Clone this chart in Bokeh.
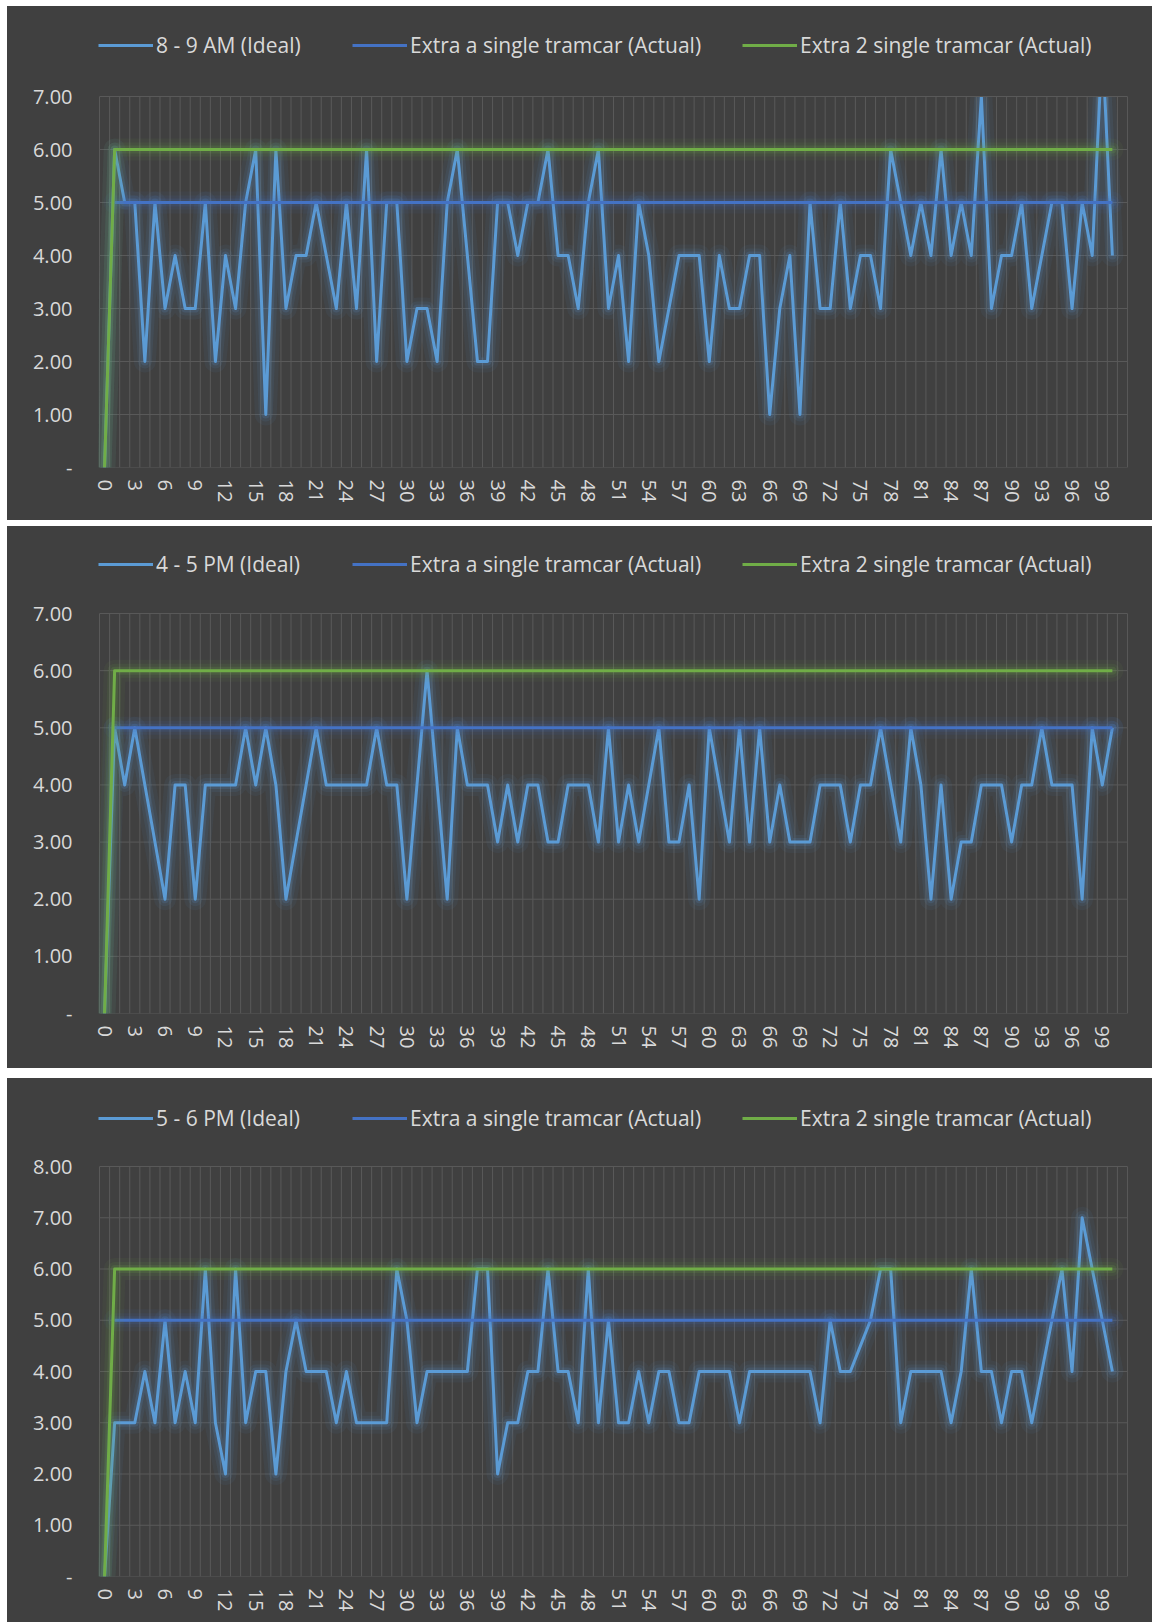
import numpy as np
from bokeh.plotting import figure
from bokeh.models import FixedTicker, Legend, LegendItem, Spacer
from bokeh.layouts import column, row
from bokeh.embed import file_html
from bokeh.resources import INLINE

# ---------------- data ----------------
x_values = list(range(101))
x_tick_values = list(range(0, 100, 3))
x_tick_labels = [str(v) for v in x_tick_values]

ideal_8_9am = [0, 6, 5, 5, 2, 5, 3, 4, 3, 3,
               5, 2, 4, 3, 5, 6, 1, 6, 3, 4,
               4, 5, 4, 3, 5, 3, 6, 2, 5, 5,
               2, 3, 3, 2, 5, 6, 4, 2, 2, 5,
               5, 4, 5, 5, 6, 4, 4, 3, 5, 6,
               3, 4, 2, 5, 4, 2, 3, 4, 4, 4,
               2, 4, 3, 3, 4, 4, 1, 3, 4, 1,
               5, 3, 3, 5, 3, 4, 4, 3, 6, 5,
               4, 5, 4, 6, 4, 5, 4, 7, 3, 4,
               4, 5, 3, 4, 5, 5, 3, 5, 4, 8,
               4]

ideal_4_5pm = [0, 5, 4, 5, 4, 3, 2, 4, 4, 2,
               4, 4, 4, 4, 5, 4, 5, 4, 2, 3,
               4, 5, 4, 4, 4, 4, 4, 5, 4, 4,
               2, 4, 6, 4, 2, 5, 4, 4, 4, 3,
               4, 3, 4, 4, 3, 3, 4, 4, 4, 3,
               5, 3, 4, 3, 4, 5, 3, 3, 4, 2,
               5, 4, 3, 5, 3, 5, 3, 4, 3, 3,
               3, 4, 4, 4, 3, 4, 4, 5, 4, 3,
               5, 4, 2, 4, 2, 3, 3, 4, 4, 4,
               3, 4, 4, 5, 4, 4, 4, 2, 5, 4,
               5]

ideal_5_6pm = [0, 3, 3, 3, 4, 3, 5, 3, 4, 3,
               6, 3, 2, 6, 3, 4, 4, 2, 4, 5,
               4, 4, 4, 3, 4, 3, 3, 3, 3, 6,
               5, 3, 4, 4, 4, 4, 4, 6, 6, 2,
               3, 3, 4, 4, 6, 4, 4, 3, 6, 3,
               5, 3, 3, 4, 3, 4, 4, 3, 3, 4,
               4, 4, 4, 3, 4, 4, 4, 4, 4, 4,
               4, 3, 5, 4, 4, 4.5, 5, 6, 6, 3,
               4, 4, 4, 4, 3, 4, 6, 4, 4, 3,
               4, 4, 3, 4, 5, 6, 4, 7, 6, 5,
               4]

extra_one_tram = [np.nan,
                  5, 5, 5, 5, 5, 5, 5, 5, 5, 5,
                  5, 5, 5, 5, 5, 5, 5, 5, 5, 5,
                  5, 5, 5, 5, 5, 5, 5, 5, 5, 5,
                  5, 5, 5, 5, 5, 5, 5, 5, 5, 5,
                  5, 5, 5, 5, 5, 5, 5, 5, 5, 5,
                  5, 5, 5, 5, 5, 5, 5, 5, 5, 5,
                  5, 5, 5, 5, 5, 5, 5, 5, 5, 5,
                  5, 5, 5, 5, 5, 5, 5, 5, 5, 5,
                  5, 5, 5, 5, 5, 5, 5, 5, 5, 5,
                  5, 5, 5, 5, 5, 5, 5, 5, 5, 5]

extra_two_tram = [0,
                  6, 6, 6, 6, 6, 6, 6, 6, 6, 6,
                  6, 6, 6, 6, 6, 6, 6, 6, 6, 6,
                  6, 6, 6, 6, 6, 6, 6, 6, 6, 6,
                  6, 6, 6, 6, 6, 6, 6, 6, 6, 6,
                  6, 6, 6, 6, 6, 6, 6, 6, 6, 6,
                  6, 6, 6, 6, 6, 6, 6, 6, 6, 6,
                  6, 6, 6, 6, 6, 6, 6, 6, 6, 6,
                  6, 6, 6, 6, 6, 6, 6, 6, 6, 6,
                  6, 6, 6, 6, 6, 6, 6, 6, 6, 6,
                  6, 6, 6, 6, 6, 6, 6, 6, 6, 6]

label_extra_one = "Extra a single tramcar (Actual)"
label_extra_two = "Extra 2 single tramcar (Actual)"

# ---------------- style ----------------
BG = "#404040"
GRID = "#595959"
TXT = "#D9D9D9"
C_IDEAL = "#5B9BD5"
C_ONE = "#4472C4"
C_TWO = "#70AD47"
FONT = "Open Sans"
W = 1145
X_LO, X_HI = -0.5, 101.5  # category band edges


def glow(p, y, color):
    for w, a in ((22, 0.06), (14, 0.09), (8, 0.15)):
        p.line(x_values, y, line_color=color, line_width=w, line_alpha=a,
               line_join="round", line_cap="round")


def panel(ideal, ideal_label, ymax, fig_h, top_px, plot_px, legend_center_px):
    bottom_px = fig_h - top_px - plot_px
    y_top = ymax * (top_px + plot_px) / plot_px  # frame reaches the figure top
    p = figure(width=W, height=fig_h, x_range=(X_LO - 0.1, X_HI + 0.1), y_range=(0, y_top),
               output_backend="svg", toolbar_location=None,
               background_fill_color=BG, border_fill_color=BG,
               min_border_left=91, min_border_right=24,
               min_border_top=0, min_border_bottom=bottom_px)
    p.styles = {"background-color": BG}
    p.outline_line_color = None
    p.grid.visible = False

    # plot-area grid (drawn as marks so the legend can live above it)
    vx = [v - 0.5 for v in range(103)]
    p.segment(x0=vx, y0=[0] * len(vx), x1=vx, y1=[ymax] * len(vx),
              line_color=GRID, line_width=1)
    hy = list(range(0, ymax + 1))
    p.segment(x0=[X_LO] * len(hy), y0=hy, x1=[X_HI] * len(hy), y1=hy,
              line_color=GRID, line_width=1)

    for ax in (p.xaxis[0], p.yaxis[0]):
        ax.axis_line_color = None
        ax.major_tick_line_color = None
        ax.minor_tick_line_color = None
        ax.major_label_text_color = TXT
        ax.major_label_text_font = FONT
        ax.major_label_text_font_size = "20px"
    p.xaxis.ticker = FixedTicker(ticks=x_tick_values)
    p.xaxis.major_label_overrides = {v: s for v, s in zip(x_tick_values, x_tick_labels)}
    p.xaxis.major_label_orientation = "vertical"
    p.xaxis.major_label_standoff = 6
    p.yaxis.ticker = FixedTicker(ticks=hy)
    p.yaxis.major_label_overrides = {v: ("-" if v == 0 else f"{v:.2f}") for v in hy}
    p.yaxis.major_tick_out = 0
    p.yaxis.major_label_standoff = 26

    glow(p, ideal, C_IDEAL)
    r1 = p.line(x_values, ideal, line_color=C_IDEAL, line_width=3, line_join="round")
    glow(p, extra_one_tram, C_ONE)
    r2 = p.line(x_values, extra_one_tram, line_color=C_ONE, line_width=3, line_join="round")
    glow(p, extra_two_tram, C_TWO)
    r3 = p.line(x_values, extra_two_tram, line_color=C_TWO, line_width=3, line_join="round")

    # mask anything above the plot area, then redraw its top edge
    p.quad(left=[X_LO - 2], right=[X_HI + 2], bottom=[ymax], top=[y_top * 1.1],
           fill_color=BG, line_color=None)
    p.segment(x0=[X_LO], y0=[ymax], x1=[X_HI], y1=[ymax], line_color=GRID, line_width=1)

    legend_y = plot_px + top_px - legend_center_px - 14.5
    for r, lab, lx in ((r1, ideal_label, 0), (r2, label_extra_one, 254), (r3, label_extra_two, 644)):
        lg = Legend(items=[LegendItem(label=lab, renderers=[r])], location=(lx, legend_y),
                    orientation="horizontal", padding=0, margin=0, spacing=0,
                    glyph_width=55, glyph_height=20, label_standoff=3,
                    label_text_font=FONT, label_text_font_size="21px",
                    label_text_color=TXT, background_fill_alpha=0,
                    border_line_color=None)
        p.add_layout(lg)
    return p


p1 = panel(ideal_8_9am, "8 - 9 AM (Ideal)", 7, 514, 90, 371, 38)
p2 = panel(ideal_4_5pm, "4 - 5 PM (Ideal)", 7, 542, 87, 400, 37)
p3 = panel(ideal_5_6pm, "5 - 6 PM (Ideal)", 8, 544, 88, 410, 39)

stack = column(Spacer(height=6), p1, Spacer(height=6), p2, Spacer(height=10), p3, spacing=0)
layout = row(Spacer(width=7), stack, spacing=0)

open("out.html", "w").write(file_html(layout, INLINE))
